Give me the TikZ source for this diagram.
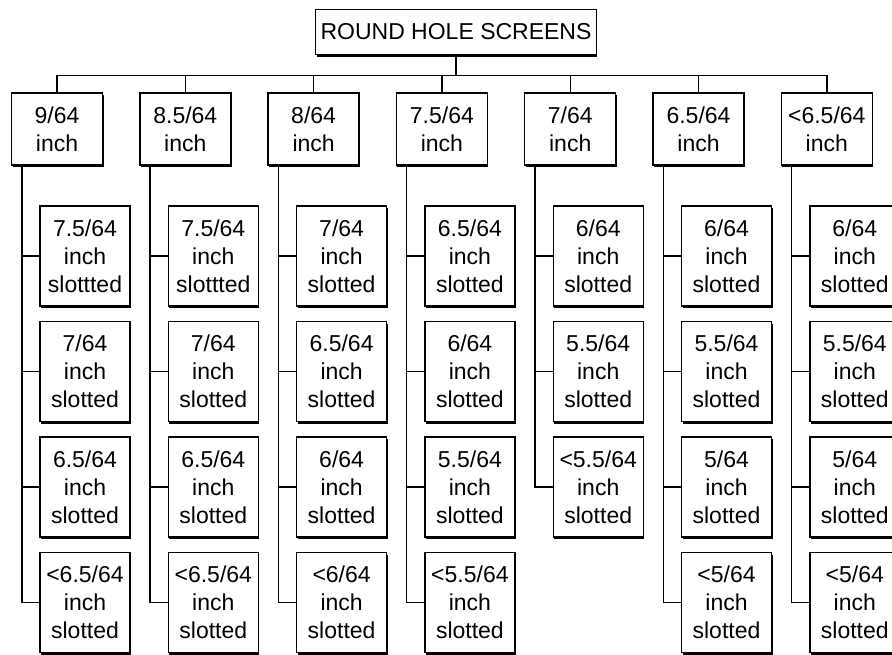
\documentclass[tikz,border=0pt]{standalone}
\usepackage{fontspec}
\setmainfont{Liberation Sans}
\usetikzlibrary{calc,shadows}

% one column of slotted screens below group #1
\newcommand\leafcol[2]{%
  \foreach \t [count=\j] in {#2}{
    \node[leaf] (c#1-\j) at ($(g#1)+({28},{127+115.5*(\j-1)})$) {\t};
    \draw (g#1.south west) ++(11,0) |- (c#1-\j.west); % trunk and branch
  }}

\begin{document}
\begin{tikzpicture}[x=0.5pt,y=-0.5pt,line width=0.7pt,
  box/.style={draw,fill=white,align=center,inner sep=1pt,
    font=\fontsize{11.5}{14}\selectfont,
    drop shadow={shadow xshift=0.5pt,shadow yshift=-1pt,fill=black,opacity=1}},
  group/.style={box,minimum width=45.5pt,minimum height=36pt},
  leaf/.style={box,minimum width=45pt,minimum height=50pt}]
  \useasboundingbox (0,0) rectangle (892,654);
  \node[box,minimum height=22.5pt,inner xsep=2.5pt] (title) at (456,32) {ROUND HOLE SCREENS};
  \foreach \lab [count=\i, evaluate=\i as \xx using 57+128.3*(\i-1)] in
    {{9/64},{8.5/64},{8/64},{7.5/64},{7/64},{6.5/64},{<6.5/64}}{
    \node[group] (g\i) at (\xx,129) {\lab\\inch};
    \draw (title.south) -- ++(0,20) -| (g\i.north); % bus line
  }
  \leafcol{1}{7.5/64\\inch\\slottted, 7/64\\inch\\slotted, 6.5/64\\inch\\slotted, <6.5/64\\inch\\slotted}
  \leafcol{2}{7.5/64\\inch\\slottted, 7/64\\inch\\slotted, 6.5/64\\inch\\slotted, <6.5/64\\inch\\slotted}
  \leafcol{3}{7/64\\inch\\slotted, 6.5/64\\inch\\slotted, 6/64\\inch\\slotted, <6/64\\inch\\slotted}
  \leafcol{4}{6.5/64\\inch\\slotted, 6/64\\inch\\slotted, 5.5/64\\inch\\slotted, <5.5/64\\inch\\slotted}
  \leafcol{5}{6/64\\inch\\slotted, 5.5/64\\inch\\slotted, <5.5/64\\inch\\slotted}
  \leafcol{6}{6/64\\inch\\slotted, 5.5/64\\inch\\slotted, 5/64\\inch\\slotted, <5/64\\inch\\slotted}
  \leafcol{7}{6/64\\inch\\slotted, 5.5/64\\inch\\slotted, 5/64\\inch\\slotted, <5/64\\inch\\slotted}
\end{tikzpicture}
\end{document}
